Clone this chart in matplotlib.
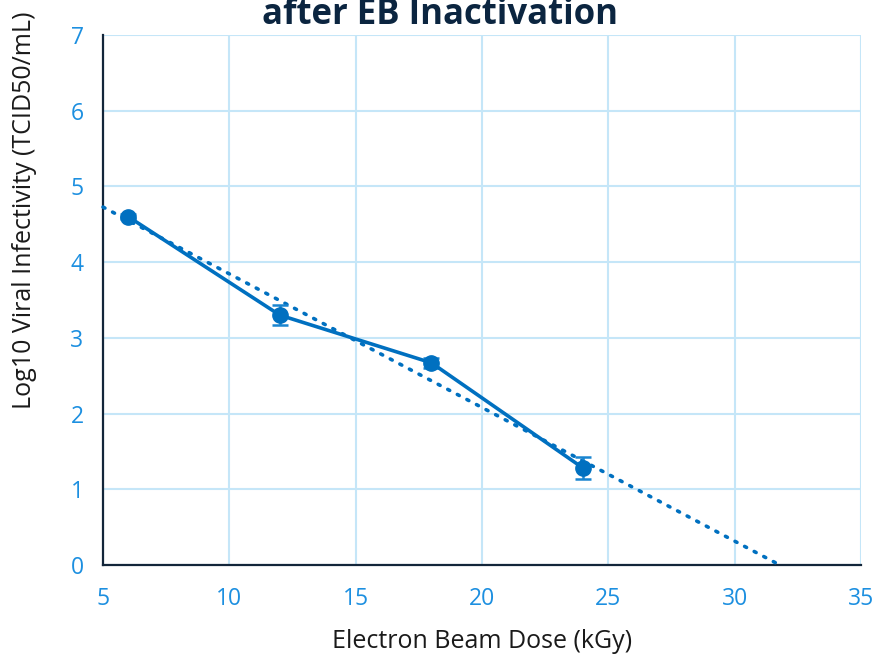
import matplotlib.pyplot as plt
import numpy as np

dose = [6, 12, 18, 24]
log_titer = [4.6, 3.3, 2.67, 1.28]
err = [0.03, 0.13, 0.07, 0.14]

x_ticks = [5, 10, 15, 20, 25, 30, 35]
y_ticks = [0, 1, 2, 3, 4, 5, 6, 7]

plt.rcParams['font.family'] = ['Open Sans', 'DejaVu Sans']

W, H = 877, 657
fig = plt.figure(figsize=(W / 100, H / 100), dpi=100)
ax = fig.add_axes([103 / W, 1 - 565 / H, 758 / W, 530 / H])

line_blue = '#0070C0'
tick_blue = '#1C8FE0'
grid_blue = '#C5E6F8'
navy = '#13263A'

# linear trend line from fitted data, drawn from x=5 to the zero crossing
slope, icpt = np.polyfit(dose, log_titer, 1)
x_end = -icpt / slope
xt = np.linspace(5, x_end, 50)
ax.plot(xt, slope * xt + icpt, linestyle=(0, (0.6, 2.4)), dash_capstyle='round',
        color=line_blue, lw=2.6, zorder=3, clip_on=False)

ax.errorbar(dose, log_titer, yerr=err, color=line_blue, ecolor='#1A85D0',
            elinewidth=1.8, capsize=6, capthick=1.8, lw=2.6, marker='o',
            markersize=11, zorder=4)

ax.set_xlim(5, 35)
ax.set_ylim(0, 7)
ax.set_xticks(x_ticks)
ax.set_yticks(y_ticks)
ax.grid(True, color=grid_blue, lw=1.5)
ax.set_axisbelow(True)
for s in ['top', 'right']:
    ax.spines[s].set_visible(False)
for s in ['left', 'bottom']:
    ax.spines[s].set_color(navy)
    ax.spines[s].set_linewidth(1.6)
ax.tick_params(length=0, labelsize=16.5, labelcolor=tick_blue)
ax.tick_params(axis='y', pad=14)
ax.tick_params(axis='x', pad=16)

# axis titles placed like the original (y title sits high, not centred on the plot)
fig.text(482 / W, 1 - 641 / H, 'Electron Beam Dose (kGy)', ha='center', va='center',
         fontsize=18, color='#1a1a1a')
fig.text(25 / W, 1 - 210 / H, 'Log10 Viral Infectivity (TCID50/mL)', ha='center',
         va='center', rotation=90, fontsize=18, color='#1a1a1a')

# chart title: only its last line is inside the picture
fig.text(440 / W, 1 - 24 / H, 'after EB Inactivation',
         ha='center', va='baseline', fontsize=25, fontweight='bold', color='#0B2540')

fig.savefig('out.png', dpi=100)
